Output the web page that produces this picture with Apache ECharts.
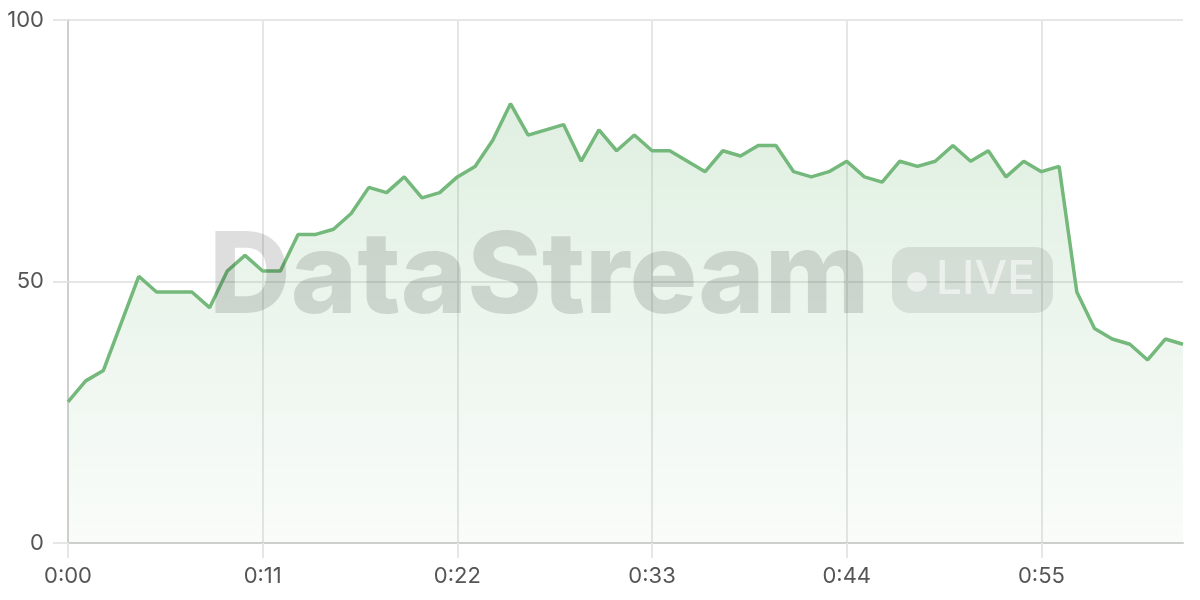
<!DOCTYPE html>
<html>
<head>
<meta charset="utf-8">
<script src="https://cdn.jsdelivr.net/npm/echarts@6/dist/echarts.min.js"></script>
<style>
html,body{margin:0;padding:0;background:#fff;}
#chart{width:1200px;height:600px;}
</style>
</head>
<body>
<div id="chart"></div>
<script>
const seconds = Array.from({length: 64}, (_, i) => i);
const categories = seconds.map(s => Math.floor(s / 60) + ':' + String(s % 60).padStart(2, '0'));
const values = [
  27, 31, 33, 42, 51, 48, 48, 48, 45, 52,
  55, 52, 52, 59, 59, 60, 63, 68, 67, 70,
  66, 67, 70, 72, 77, 84, 78, 79, 80, 73,
  79, 75, 78, 75, 75, 73, 71, 75, 74, 76,
  76, 71, 70, 71, 73, 70, 69, 73, 72, 73,
  76, 73, 75, 70, 73, 71, 72, 48, 41, 39,
  38, 35, 39, 38
];
const yTicks = [0, 50, 100];

const chart = echarts.init(document.getElementById('chart'));
const labelFont = { color: '#555555', fontSize: 22, fontFamily: 'Inter, "Noto Sans", sans-serif' };
chart.setOption({
  animation: false,
  grid: { left: 68, right: 17, top: 20, bottom: 57 },
  xAxis: {
    type: 'category',
    data: categories,
    boundaryGap: false,
    axisLine: { show: true, lineStyle: { color: '#cfcfcf', width: 2 } },
    axisTick: { show: true, interval: 10, length: 15, lineStyle: { color: '#e6e6e6', width: 2 } },
    axisLabel: Object.assign({ interval: 10, margin: 22 }, labelFont),
    splitLine: { show: true, interval: 10, lineStyle: { color: '#e6e6e6', width: 2 } }
  },
  yAxis: {
    type: 'value',
    min: yTicks[0],
    max: yTicks[yTicks.length - 1],
    interval: 50,
    axisLine: { show: true, lineStyle: { color: '#cfcfcf', width: 2 } },
    axisTick: { show: true, length: 15, lineStyle: { color: '#e6e6e6', width: 2 } },
    axisLabel: Object.assign({ margin: 24 }, labelFont),
    splitLine: { show: true, lineStyle: { color: '#e6e6e6', width: 2 } }
  },
  series: [{
    type: 'line',
    data: values,
    symbol: 'none',
    lineStyle: { color: '#74b97b', width: 3.5 },
    itemStyle: { color: '#74b97b' },
    areaStyle: {
      color: new echarts.graphic.LinearGradient(0, 0, 0, 1, [
        { offset: 0, color: 'rgba(116,185,123,0.32)' },
        { offset: 1, color: 'rgba(116,185,123,0.06)' }
      ])
    }
  }],
  graphic: [
    {
      type: 'text', z: 100, left: 209, top: 223,
      style: { text: 'DataStream', font: '800 113px Inter, "Noto Sans", sans-serif', fill: 'rgba(0,0,0,0.13)' }
    },
    {
      type: 'rect', z: 100, left: 892, top: 247,
      shape: { width: 161, height: 66, r: 18 },
      style: { fill: 'rgba(0,0,0,0.09)' }
    },
    {
      type: 'circle', z: 101, left: 907, top: 272,
      shape: { r: 10 },
      style: { fill: 'rgba(255,255,255,0.55)' }
    },
    {
      type: 'text', z: 101, left: 936, top: 257,
      style: { text: 'LIVE', font: '500 46px Inter, "Noto Sans", sans-serif', fill: 'rgba(255,255,255,0.55)' }
    }
  ]
});
</script>
</body>
</html>
